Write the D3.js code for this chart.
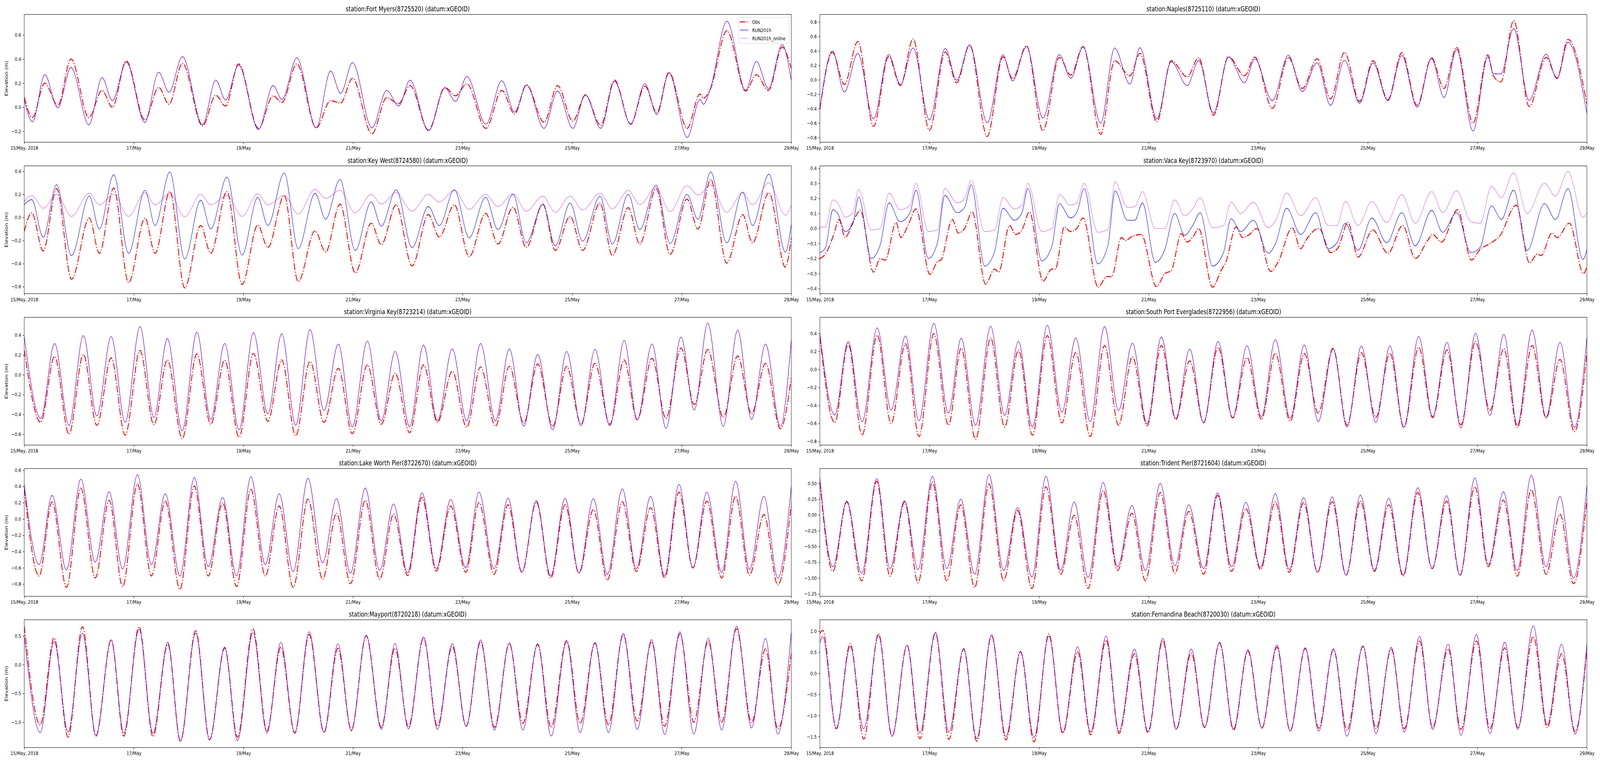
<!DOCTYPE html>
<html>
<head>
<meta charset="utf-8">
<script src="https://cdn.jsdelivr.net/npm/d3@7"></script>
<style>
html, body { margin: 0; padding: 0; background: #fff; overflow: hidden; }
#fig { display: block; width: 100vw; height: 100vh; }
text { font-family: "DejaVu Sans", sans-serif; }
</style>
</head>
<body>
<svg id="fig" viewBox="0 0 5150 1950" preserveAspectRatio="none"></svg>
<script>
// x axis: hours since 15 May 2018 00:00
var xTickDays = [15, 17, 19, 21, 23, 25, 27, 29];
var xTickLabels = ["15/May, 2018", "17/May", "19/May", "21/May", "23/May", "25/May", "27/May", "29/May"];
var seriesNames = ["Obs", "RUN201h", "RUN201h_online"];

// Fort Myers
var fmT = [0,3.6,9.0,14.7,20.5,28.3,34.1,38.6,44.7,52.8,58.9,63.4,69.3,78.1,83.9,88.2,93.9,102.6,109.0,112.9,119.4,127.9,134.2,138.6,143.8,152.3,158.8,164.0,169.0,177.1,184.3,188.9,193.9,202.2,209.2,214.8,220.0,227.7,233.6,240.3,245.8,252.5,258.6,265.6,271.9,277.1,282.4,290.4,296.0,297.5,300.5,307.8,316.0,320.7,326.0,332.0,336];
var fmRun = [0.06,-0.12,0.27,-0.005,0.33,-0.145,0.245,0.055,0.375,-0.125,0.29,0.125,0.42,-0.145,0.225,0.06,0.35,-0.185,0.18,0.065,0.41,-0.17,0.30,0.115,0.37,-0.17,0.14,0.01,0.225,-0.195,0.16,0.05,0.255,-0.14,0.22,-0.04,0.185,-0.175,0.135,-0.175,0.105,-0.175,0.215,-0.14,0.195,-0.06,0.285,-0.25,0.065,0.025,0.15,0.715,0.14,0.38,0.155,0.52,0.22];
var fmObs = [0.085,-0.085,0.20,0.015,0.40,-0.085,0.14,0.0,0.385,-0.105,0.165,0.025,0.365,-0.155,0.10,0.01,0.36,-0.175,0.095,0.04,0.36,-0.17,0.055,0.035,0.24,-0.22,0.08,0.03,0.18,-0.19,0.165,0.095,0.195,-0.175,0.14,-0.055,0.185,-0.125,0.18,-0.115,0.10,-0.15,0.225,-0.14,0.175,-0.045,0.29,-0.175,0.11,0.075,0.15,0.635,0.135,0.27,0.14,0.50,0.32];
var fmY = [-0.29, 0.77];
var fmTicks = [-0.2, 0, 0.2, 0.4, 0.6];

// Naples
var npT = [0,5.5,10.7,16.6,23.5,30.1,35.3,40.8,48.0,54.9,59.9,65.6,73.3,80.2,84.4,90.5,97.7,104.9,109.9,115.3,123.0,129.1,135.8,140.2,147.6,153.9,160.9,165.9,172.4,179.0,186.0,190.5,198.2,205.2,211.3,217.8,223.7,229.8,236.4,242.3,248.8,254.9,261.6,267.9,273.4,278.9,286.1,292.6,295.0,298.3,303.9,310.7,318.1,322.9,327.7,336];
var npRun = [-0.395,0.40,-0.17,0.365,-0.54,0.35,-0.065,0.44,-0.555,0.435,-0.005,0.485,-0.595,0.345,-0.015,0.46,-0.53,0.35,0.02,0.455,-0.60,0.44,-0.06,0.445,-0.54,0.25,-0.08,0.265,-0.46,0.315,-0.04,0.29,-0.29,0.34,-0.165,0.235,-0.355,0.27,-0.325,0.235,-0.29,0.335,-0.38,0.295,-0.245,0.42,-0.71,0.32,0.085,0.08,0.71,-0.285,0.355,0.015,0.52,-0.47];
var npObs = [-0.41,0.38,-0.065,0.53,-0.645,0.32,-0.08,0.565,-0.70,0.385,-0.04,0.48,-0.785,0.32,0.015,0.47,-0.705,0.31,0.065,0.46,-0.755,0.265,0.055,0.365,-0.58,0.265,0.04,0.305,-0.49,0.32,0.055,0.315,-0.395,0.31,-0.12,0.29,-0.265,0.38,-0.30,0.265,-0.275,0.375,-0.355,0.305,-0.12,0.45,-0.60,0.345,0.055,-0.03,0.82,-0.37,0.31,0.025,0.56,-0.34];
var npY = [-0.865, 0.905];
var npTicks = [-0.8, -0.6, -0.4, -0.2, 0, 0.2, 0.4, 0.6, 0.8];

// Key West
var kwT = [0,3.3,8.3,14.2,20.7,28.5,32.9,39.2,45.7,52.9,57.3,63.8,70.3,77.3,81.7,88.8,95.4,102.3,106.7,113.9,120.0,127.4,132.0,138.3,145.0,152.0,156.4,162.9,169.9,177.0,181.8,188.4,194.9,202.1,207.5,214.1,219.9,227.2,232.6,239.1,244.6,252.2,257.6,264.6,269.6,276.8,282.9,290.3,295.1,300.7,307.7,314.7,319.0,326.2,333.4,336];
var kwRun = [0.11,0.155,-0.17,0.285,-0.33,0.185,-0.10,0.37,-0.31,0.235,-0.07,0.395,-0.36,0.15,-0.10,0.35,-0.325,0.175,-0.07,0.385,-0.27,0.21,-0.015,0.33,-0.285,0.135,-0.075,0.24,-0.26,0.095,-0.07,0.24,-0.175,0.175,-0.105,0.2,-0.22,0.115,-0.245,0.125,-0.205,0.185,-0.23,0.2,-0.105,0.28,-0.225,0.2,-0.015,0.395,-0.22,0.22,-0.07,0.375,-0.30,-0.055];
var kwObs = [-0.12,0.04,-0.29,0.25,-0.535,-0.005,-0.31,0.255,-0.565,-0.005,-0.31,0.225,-0.61,-0.07,-0.31,0.225,-0.58,-0.065,-0.26,0.19,-0.555,-0.115,-0.30,0.115,-0.48,-0.05,-0.235,0.11,-0.42,0.025,-0.17,0.11,-0.34,0.035,-0.23,0.09,-0.26,0.115,-0.285,0.01,-0.285,0.125,-0.33,0.085,-0.23,0.25,-0.32,0.16,-0.10,0.33,-0.395,0.025,-0.22,0.215,-0.43,-0.17];
var kwOnline = [0.14,0.19,0.08,0.2,0.01,0.21,0.11,0.2,0.01,0.215,0.11,0.21,0.005,0.2,0.11,0.19,0.01,0.205,0.11,0.19,0.03,0.245,0.165,0.235,0.04,0.2,0.115,0.215,0.055,0.2,0.135,0.235,0.07,0.2,0.095,0.205,0.055,0.185,0.045,0.185,0.065,0.21,0.075,0.235,0.11,0.26,0.05,0.275,0.195,0.28,0.045,0.215,0.11,0.3,0.02,0.11];
var kwY = [-0.66, 0.447];
var kwTicks = [-0.6, -0.4, -0.2, 0, 0.2, 0.4];

// Vaca Key (obs has its own times)
var vkT = [0,2.4,5.7,7.8,11.1,14.4,17.0,22.5,26.4,30.3,35.1,39.5,42.1,47.5,51.5,54.7,60.2,63.4,66.3,72.2,76.5,80.2,85.2,88.5,91.1,97.2,101.6,104.9,109.7,112.5,115.8,121.7,126.2,129.3,134.7,138.0,141.3,146.9,151.1,155.4,159.8,163.3,166.6,172.0,176.8,180.1,184.4,189.9,196.4,199.7,204.5,210.6,217.2,222.6,226.5,230.2,235.7,241.8,248.3,254.9,260.8,268.0,272.8,278.9,285.2,289.2,294.2,298.5,303.9,309.8,317.4,322.2,327.7,334.2,336];
var vkRun = [-0.16,-0.13,0.125,0.10,-0.02,0.03,0.21,-0.2,-0.11,0.17,0.045,0.105,0.255,-0.2,-0.095,0.22,0.105,0.14,0.29,-0.25,-0.155,0.135,0.055,0.105,0.265,-0.215,-0.12,0.165,0.07,0.105,0.265,-0.235,-0.11,0.25,0.055,0.055,0.17,-0.225,-0.14,0.10,-0.045,0.02,0.105,-0.25,-0.16,0.065,-0.02,0.055,-0.165,-0.095,0.135,-0.04,0.105,-0.135,-0.095,0.035,-0.145,0.07,-0.095,0.105,-0.115,0.12,-0.025,0.105,-0.16,-0.125,0.15,0.06,0.255,-0.145,0.165,0.06,0.265,-0.205,-0.14];
var vkOnline = [0.01,0.01,0.19,0.17,0.075,0.105,0.26,-0.01,0.0,0.235,0.125,0.155,0.30,-0.02,-0.01,0.265,0.17,0.2,0.32,-0.02,-0.01,0.205,0.13,0.155,0.30,-0.02,0.0,0.225,0.155,0.17,0.30,-0.025,-0.005,0.31,0.14,0.145,0.245,0.0,0.0,0.19,0.085,0.13,0.205,0.005,0.02,0.175,0.10,0.175,0.005,0.055,0.235,0.085,0.205,0.02,0.02,0.18,0.02,0.18,0.04,0.225,0.035,0.245,0.105,0.25,0.045,0.035,0.28,0.205,0.37,0.10,0.30,0.215,0.38,0.075,0.105];
var vkObsT = [0,2.4,6.3,8.3,11.1,14.4,17.7,23.5,26.4,28.6,33.4,35.5,38.6,42.1,48.2,51.5,53.0,58.0,60.6,63.4,66.7,72.6,76.5,78.3,83.1,85.7,88.5,91.8,97.7,101.6,103.1,107.1,109.7,112.5,115.3,121.9,125.6,127.8,132.1,133.9,136.5,140.8,147.4,151.1,153.9,158.3,160.9,163.7,165.9,172.0,175.7,177.9,182.3,185.1,187.7,191.4,197.5,200.8,206.9,210.6,212.8,218.7,223.7,226.9,231.3,235.7,242.2,248.8,255.3,260.8,266.2,268.4,272.3,279.3,285.4,289.1,293.5,297.8,305.0,310.9,314.2,315.9,320.7,322.9,328.3,334.5,336];
var vkObs = [-0.2,-0.17,-0.03,0.06,-0.06,0.04,0.12,-0.29,-0.2,-0.21,0.04,-0.06,0.02,0.13,-0.305,-0.22,-0.21,0.06,-0.03,0.0,0.11,-0.37,-0.27,-0.29,0.02,-0.04,-0.01,0.11,-0.35,-0.27,-0.27,0.01,-0.02,0.0,0.07,-0.39,-0.32,-0.32,-0.06,-0.08,-0.055,-0.04,-0.385,-0.3,-0.28,-0.035,-0.09,-0.05,0.0,-0.39,-0.28,-0.22,0.01,-0.06,-0.045,0.0,-0.285,-0.22,0.005,-0.135,-0.08,0.0,-0.16,-0.13,0.04,-0.19,-0.01,-0.165,0.02,-0.2,-0.08,-0.04,-0.09,0.125,-0.21,-0.14,-0.1,-0.05,0.155,-0.23,-0.17,-0.18,-0.03,-0.06,0.035,-0.3,-0.25];
var vkY = [-0.433, 0.416];
var vkTicks = [-0.4, -0.3, -0.2, -0.1, 0, 0.1, 0.2, 0.3, 0.4];

// Virginia Key
var vaT = [0,7.2,13.3,19.6,25.9,31.8,38.1,44.2,50.7,56.8,62.7,69.2,75.6,81.7,87.8,94.1,100.4,106.7,112.8,118.9,125.2,131.3,137.6,143.7,150.3,156.4,162.5,168.8,174.9,181.0,187.5,193.8,199.9,206.4,212.5,218.8,224.9,231.5,237.6,243.9,250.0,256.5,262.8,268.5,275.0,281.1,287.7,293.5,299.4,306.2,312.5,318.6,324.7,331.2,336];
var vaRun = [0.385,-0.44,0.315,-0.51,0.395,-0.415,0.385,-0.48,0.485,-0.43,0.365,-0.565,0.43,-0.45,0.315,-0.555,0.425,-0.395,0.415,-0.51,0.455,-0.36,0.31,-0.525,0.34,-0.465,0.235,-0.525,0.30,-0.465,0.26,-0.465,0.315,-0.465,0.26,-0.52,0.205,-0.555,0.235,-0.515,0.255,-0.515,0.345,-0.455,0.31,-0.54,0.38,-0.355,0.52,-0.52,0.45,-0.45,0.31,-0.52,0.355];
var vaObs = [0.25,-0.48,0.185,-0.60,0.205,-0.51,0.17,-0.61,0.245,-0.505,0.15,-0.645,0.21,-0.50,0.145,-0.63,0.215,-0.47,0.15,-0.615,0.135,-0.48,0.065,-0.595,0.10,-0.50,0.015,-0.585,0.10,-0.48,0.035,-0.53,0.08,-0.52,0.085,-0.49,0.11,-0.52,0.085,-0.50,0.115,-0.50,0.15,-0.455,0.165,-0.44,0.27,-0.30,0.255,-0.43,0.19,-0.395,0.115,-0.545,-0.03];
var vaY = [-0.71, 0.58];
var vaTicks = [-0.6, -0.4, -0.2, 0, 0.2, 0.4];

// South Port Everglades
var spT = [0,6.5,12.4,18.5,25.1,31.2,37.5,43.4,49.9,56.3,61.9,68.2,74.8,80.9,87.0,93.1,99.6,106.0,112.1,118.4,124.7,130.8,136.9,143.3,149.6,155.9,162.0,168.1,174.4,180.8,187.1,193.4,199.5,206.0,212.2,218.3,224.8,230.9,237.2,243.5,249.7,255.8,262.3,268.4,274.7,280.8,287.2,293.5,299.6,305.5,312.0,318.1,324.2,330.5,336];
var spRun = [0.40,-0.505,0.31,-0.58,0.46,-0.45,0.37,-0.57,0.51,-0.485,0.345,-0.62,0.48,-0.51,0.31,-0.64,0.49,-0.475,0.35,-0.58,0.475,-0.455,0.29,-0.60,0.36,-0.545,0.225,-0.595,0.31,-0.535,0.26,-0.525,0.33,-0.54,0.27,-0.58,0.225,-0.64,0.26,-0.59,0.26,-0.64,0.365,-0.525,0.30,-0.65,0.40,-0.51,0.39,-0.62,0.435,-0.53,0.30,-0.645,0.36];
var spObs = [0.36,-0.59,0.285,-0.73,0.38,-0.60,0.285,-0.745,0.395,-0.62,0.235,-0.775,0.35,-0.64,0.215,-0.73,0.375,-0.595,0.19,-0.745,0.265,-0.62,0.14,-0.625,0.265,-0.555,0.095,-0.59,0.245,-0.54,0.13,-0.555,0.18,-0.575,0.175,-0.485,0.235,-0.62,0.185,-0.535,0.18,-0.645,0.245,-0.535,0.215,-0.615,0.31,-0.455,0.23,-0.645,0.265,-0.54,0.11,-0.69,0.19];
var spY = [-0.84, 0.578];
var spTicks = [-0.8, -0.6, -0.4, -0.2, 0, 0.2, 0.4];

// Lake Worth Pier
var lwT = [0,6.5,12.2,18.5,24.8,31.1,37.2,43.1,49.6,55.7,61.8,68.2,74.5,80.6,86.9,93.0,99.3,105.6,111.7,117.8,124.3,130.7,136.8,142.9,149.4,155.7,161.8,167.9,174.2,180.5,186.8,193.4,199.2,205.8,211.9,218.0,224.3,230.6,236.9,243.0,249.3,255.4,262.0,268.1,274.4,280.5,286.8,292.9,299.0,305.5,311.6,317.7,324.0,330.1,336];
var lwRun = [0.425,-0.56,0.29,-0.625,0.49,-0.53,0.335,-0.615,0.545,-0.56,0.31,-0.70,0.51,-0.585,0.265,-0.70,0.52,-0.56,0.31,-0.645,0.50,-0.54,0.25,-0.665,0.38,-0.63,0.185,-0.66,0.32,-0.61,0.24,-0.60,0.33,-0.61,0.255,-0.65,0.225,-0.70,0.255,-0.66,0.25,-0.68,0.37,-0.61,0.28,-0.70,0.425,-0.60,0.33,-0.655,0.465,-0.62,0.28,-0.725,0.405];
var lwObs = [0.37,-0.70,0.21,-0.84,0.38,-0.725,0.23,-0.83,0.43,-0.70,0.22,-0.865,0.405,-0.70,0.20,-0.83,0.365,-0.70,0.16,-0.84,0.245,-0.74,0.07,-0.795,0.23,-0.74,0.06,-0.695,0.265,-0.64,0.16,-0.655,0.20,-0.68,0.175,-0.655,0.21,-0.725,0.175,-0.665,0.115,-0.75,0.21,-0.645,0.14,-0.725,0.33,-0.60,0.22,-0.725,0.28,-0.69,0.055,-0.81,0.195];
var lwY = [-0.95, 0.62];
var lwTicks = [-0.8, -0.6, -0.4, -0.2, 0, 0.2, 0.4, 0.6];

// Trident Pier
var tpT = [0,5.7,11.8,18.3,24.9,30.7,37.1,43.0,49.3,55.6,61.7,67.8,74.1,80.5,86.6,92.9,99.0,105.5,111.4,117.5,124.1,130.4,136.7,142.6,149.1,155.5,161.6,168.1,174.2,180.3,186.6,193.0,199.5,205.6,211.9,218.0,224.4,230.5,236.8,242.9,249.2,255.5,261.9,268.2,274.5,280.4,286.9,292.8,299.4,305.5,311.6,318.1,324.2,330.1,336];
var tpRun = [0.58,-0.82,0.22,-0.925,0.575,-0.85,0.225,-0.865,0.61,-0.85,0.25,-0.94,0.635,-0.88,0.115,-0.985,0.61,-0.88,0.205,-0.99,0.515,-0.82,0.15,-0.88,0.50,-0.805,0.16,-0.85,0.35,-0.82,0.20,-0.835,0.335,-0.865,0.275,-0.91,0.285,-0.955,0.315,-0.88,0.265,-0.95,0.43,-0.85,0.305,-0.955,0.585,-0.79,0.365,-0.88,0.625,-0.82,0.295,-1.0,0.475];
var tpObs = [0.52,-0.895,0.205,-1.045,0.535,-0.97,0.205,-1.075,0.52,-1.045,0.16,-1.15,0.49,-1.04,0.07,-1.165,0.445,-0.94,-0.005,-1.165,0.385,-0.88,0.025,-1.045,0.355,-0.925,0.055,-0.94,0.31,-0.895,0.10,-0.865,0.205,-0.91,0.195,-0.91,0.21,-0.955,0.22,-0.895,0.16,-0.97,0.355,-0.85,0.22,-0.955,0.445,-0.82,0.235,-0.97,0.40,-0.94,0.01,-1.09,0.25];
var tpY = [-1.29, 0.735];
var tpTicks = [-1.25, -1, -0.75, -0.5, -0.25, 0, 0.25, 0.5];

// Mayport
var mpT = [0,7.0,13.1,19.2,25.5,31.4,38.1,43.6,50.3,56.4,62.9,68.4,75.1,81.2,87.8,93.4,100.2,106.3,112.4,118.5,124.8,131.3,137.4,143.3,149.8,156.4,162.4,168.3,174.9,181.0,187.5,193.6,199.9,206.0,212.5,218.4,224.9,230.8,237.6,243.5,250.0,255.9,262.4,268.5,274.8,280.5,287.2,293.3,299.6,305.5,312.0,318.6,324.7,330.1,336];
var mpRun = [0.50,-1.18,0.40,-1.17,0.545,-1.23,0.43,-1.19,0.615,-1.19,0.39,-1.33,0.555,-1.305,0.305,-1.32,0.555,-1.19,0.385,-1.18,0.57,-1.17,0.36,-1.15,0.51,-1.125,0.365,-1.115,0.48,-1.125,0.365,-1.07,0.43,-1.135,0.38,-1.135,0.365,-1.24,0.40,-1.18,0.385,-1.18,0.545,-1.125,0.435,-1.215,0.57,-1.205,0.46,-1.135,0.67,-1.10,0.455,-1.205,0.57];
var mpObs = [0.67,-1.045,0.465,-1.26,0.66,-1.24,0.43,-1.24,0.66,-1.25,0.36,-1.33,0.59,-1.305,0.29,-1.26,0.62,-1.15,0.305,-1.19,0.525,-1.18,0.285,-1.135,0.505,-1.09,0.285,-1.08,0.465,-1.07,0.32,-1.07,0.40,-1.09,0.365,-1.02,0.35,-1.09,0.42,-1.02,0.375,-1.045,0.525,-0.98,0.40,-1.07,0.535,-1.0,0.41,-1.0,0.625,-1.01,0.275,-1.115,0.205];
var mpY = [-1.44, 0.78];
var mpTicks = [-1, -0.5, 0, 0.5];

// Fernandina Beach
var fbT = [0,1.2,7.2,13.3,19.2,25.7,31.6,38.2,43.8,50.6,56.5,63.0,68.7,75.2,81.5,87.9,93.8,100.3,106.4,112.9,118.6,125.4,131.0,137.8,143.7,150.2,156.1,162.7,168.5,175.1,181.2,187.5,193.6,200.2,206.0,212.6,218.5,225.0,230.9,237.9,243.6,250.3,256.0,262.7,268.4,275.2,280.8,287.6,293.5,300.0,305.7,312.5,318.6,324.9,330.8,336];
var fbRun = [0.72,0.87,-1.30,0.635,-1.315,0.90,-1.49,0.665,-1.415,0.975,-1.395,0.59,-1.55,0.915,-1.50,0.525,-1.52,0.885,-1.395,0.63,-1.395,0.885,-1.38,0.575,-1.38,0.83,-1.315,0.575,-1.27,0.735,-1.315,0.565,-1.285,0.67,-1.37,0.605,-1.37,0.58,-1.49,0.65,-1.425,0.62,-1.395,0.875,-1.33,0.69,-1.47,0.92,-1.425,0.735,-1.33,1.125,-1.225,0.69,-1.44,0.71];
var fbObs = [0.95,1.02,-1.315,0.705,-1.56,0.94,-1.49,0.66,-1.55,0.96,-1.565,0.575,-1.61,0.90,-1.58,0.51,-1.625,0.93,-1.425,0.51,-1.455,0.79,-1.425,0.465,-1.41,0.775,-1.33,0.48,-1.285,0.72,-1.35,0.525,-1.30,0.62,-1.365,0.59,-1.30,0.565,-1.35,0.635,-1.315,0.575,-1.315,0.765,-1.285,0.58,-1.33,0.765,-1.315,0.605,-1.285,0.875,-1.285,0.465,-1.38,0.575];
var fbY = [-1.76, 1.27];
var fbTicks = [-1.5, -1, -0.5, 0, 0.5, 1];

var panels = [
    {title: "station:Fort Myers(8725520) (datum:xGEOID)", col: 0, row: 0, obsT: fmT, obs: fmObs, runT: fmT, run: fmRun, online: fmRun, yDom: fmY, ticks: fmTicks, fmt: ".1f", legend: true},
    {title: "station:Naples(8725110) (datum:xGEOID)", col: 1, row: 0, obsT: npT, obs: npObs, runT: npT, run: npRun, online: npRun, yDom: npY, ticks: npTicks, fmt: ".1f"},
    {title: "station:Key West(8724580) (datum:xGEOID)", col: 0, row: 1, obsT: kwT, obs: kwObs, runT: kwT, run: kwRun, online: kwOnline, yDom: kwY, ticks: kwTicks, fmt: ".1f"},
    {title: "station:Vaca Key(8723970) (datum:xGEOID)", col: 1, row: 1, obsT: vkObsT, obs: vkObs, runT: vkT, run: vkRun, online: vkOnline, yDom: vkY, ticks: vkTicks, fmt: ".1f"},
    {title: "station:Virginia Key(8723214) (datum:xGEOID)", col: 0, row: 2, obsT: vaT, obs: vaObs, runT: vaT, run: vaRun, online: vaRun, yDom: vaY, ticks: vaTicks, fmt: ".1f"},
    {title: "station:South Port Everglades(8722956) (datum:xGEOID)", col: 1, row: 2, obsT: spT, obs: spObs, runT: spT, run: spRun, online: spRun, yDom: spY, ticks: spTicks, fmt: ".1f"},
    {title: "station:Lake Worth Pier(8722670) (datum:xGEOID)", col: 0, row: 3, obsT: lwT, obs: lwObs, runT: lwT, run: lwRun, online: lwRun, yDom: lwY, ticks: lwTicks, fmt: ".1f"},
    {title: "station:Trident Pier(8721604) (datum:xGEOID)", col: 1, row: 3, obsT: tpT, obs: tpObs, runT: tpT, run: tpRun, online: tpRun, yDom: tpY, ticks: tpTicks, fmt: ".2f"},
    {title: "station:Mayport(8720218) (datum:xGEOID)", col: 0, row: 4, obsT: mpT, obs: mpObs, runT: mpT, run: mpRun, online: mpRun, yDom: mpY, ticks: mpTicks, fmt: ".1f"},
    {title: "station:Fernandina Beach(8720030) (datum:xGEOID)", col: 1, row: 4, obsT: fbT, obs: fbObs, runT: fbT, run: fbRun, online: fbRun, yDom: fbY, ticks: fbTicks, fmt: ".1f"}
];

var svg = d3.select("#fig");
var colX = [78, 2639], rowY = [37, 424.5, 812, 1199, 1586];
var pw = 2469, ph = 327;
var t0 = Date.UTC(2018, 4, 15);

var styles = [
    {color: "#ff0000", width: 2.7, dash: "17.8,4.4,2.8,4.4"},
    {color: "#0000ff", width: 1.3, dash: null},
    {color: "#bf00bf", width: 1.2, dash: "2.6,1.4"}
];

function toDate(h) { return new Date(t0 + h * 3600e3); }
function pairs(ts, vs) { return ts.map(function(t, i) { return {t: toDate(t), v: vs[i]}; }); }

panels.forEach(function(p, k) {
    var g = svg.append("g").attr("transform", "translate(" + colX[p.col] + "," + rowY[p.row] + ")");

    var x = d3.scaleUtc().domain([toDate(0), toDate(336)]).range([0, pw]);
    var y = d3.scaleLinear().domain(p.yDom).range([ph, 0]);

    g.append("clipPath").attr("id", "clip" + k)
        .append("rect").attr("width", pw).attr("height", ph);

    var line = d3.line()
        .x(function(d) { return x(d.t); })
        .y(function(d) { return y(d.v); })
        .curve(d3.curveMonotoneX);

    var series = [pairs(p.obsT, p.obs), pairs(p.runT, p.run), pairs(p.runT, p.online)];
    var plot = g.append("g").attr("clip-path", "url(#clip" + k + ")");
    series.forEach(function(s, i) {
        plot.append("path")
            .attr("d", line(s))
            .attr("fill", "none")
            .attr("stroke", styles[i].color)
            .attr("stroke-width", styles[i].width)
            .attr("stroke-dasharray", styles[i].dash)
            .attr("stroke-linejoin", "round");
    });

    var fmt = d3.format(p.fmt);
    var xAxis = g.append("g").attr("transform", "translate(0," + ph + ")")
        .call(d3.axisBottom(x)
            .tickValues(xTickDays.map(function(d) { return new Date(Date.UTC(2018, 4, d)); }))
            .tickFormat(function(d, i) { return xTickLabels[i]; })
            .tickSize(5).tickPadding(5));
    var yAxis = g.append("g")
        .call(d3.axisLeft(y)
            .tickValues(p.ticks)
            .tickFormat(function(v) { return fmt(v).replace("-", "\u2212"); })
            .tickSize(5).tickPadding(5));
    [xAxis, yAxis].forEach(function(a) {
        a.attr("font-family", null).attr("font-size", null);
        a.select(".domain").remove();
        a.selectAll(".tick line").attr("stroke", "#000").attr("stroke-width", 1.1);
        a.selectAll(".tick text").attr("fill", "#000").style("font-size", "13px");
    });

    g.append("rect").attr("width", pw).attr("height", ph)
        .attr("fill", "none").attr("stroke", "#000").attr("stroke-width", 1.1);

    g.append("text")
        .attr("x", pw / 2).attr("y", -8)
        .attr("text-anchor", "middle")
        .style("font-size", "17.5px")
        .text(p.title);

    if (p.col === 0) {
        g.append("text")
            .attr("transform", "translate(" + (21 - colX[0]) + "," + (ph / 2) + ") rotate(-90)")
            .attr("text-anchor", "middle")
            .attr("dy", "0.35em")
            .style("font-size", "13.5px")
            .text("Elevation (m)");
    }

    if (p.legend) {
        var lg = g.append("g").attr("transform", "translate(" + (pw - 170) + ",7)");
        lg.append("rect").attr("width", 163).attr("height", 67).attr("rx", 3)
            .attr("fill", "#fff").attr("fill-opacity", 0.8)
            .attr("stroke", "#cccccc").attr("stroke-width", 1);
        seriesNames.forEach(function(name, i) {
            var yy = 12 + i * 21;
            lg.append("line").attr("x1", 4).attr("x2", 32).attr("y1", yy).attr("y2", yy)
                .attr("stroke", styles[i].color)
                .attr("stroke-width", styles[i].width)
                .attr("stroke-dasharray", styles[i].dash);
            lg.append("text").attr("x", 44).attr("y", yy).attr("dy", "0.35em")
                .style("font-size", "13px").text(name);
        });
    }
});
</script>
</body>
</html>
